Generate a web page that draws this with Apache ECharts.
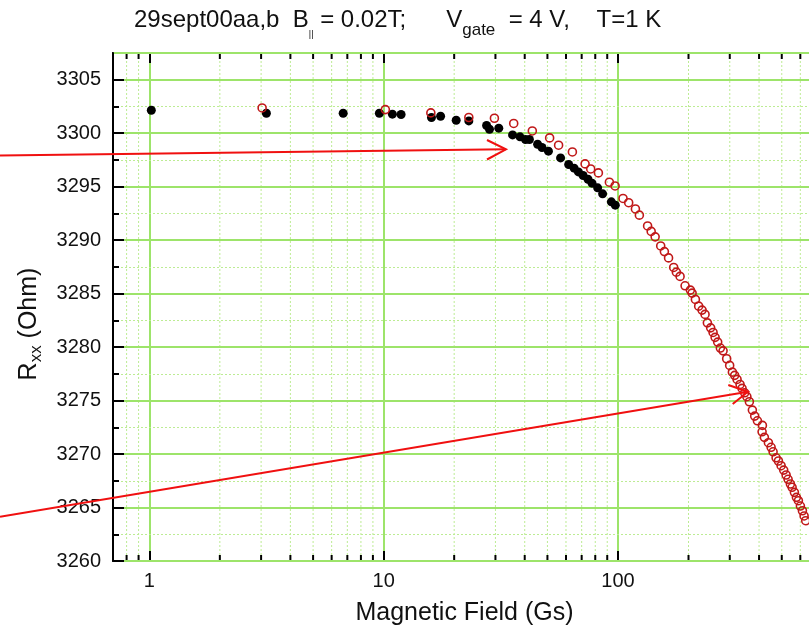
<!DOCTYPE html>
<html><head><meta charset="utf-8">
<script src="https://cdn.jsdelivr.net/npm/echarts@6/dist/echarts.min.js"></script>
<style>html,body{margin:0;padding:0;background:#fff}#c{width:809px;height:633px}</style>
</head><body><div id="c"></div>
<script>
// Axis ranges and ticks
const xMin = 0.7, xMax = 700;
const yMin = 3260, yMax = 3307.5;
const yMajorStep = 5, yMinorStep = 2.5;
const xMinorTicks = [0.8, 0.9, 2, 3, 4, 5, 6, 7, 8, 9, 20, 30, 40, 50, 60, 70, 80, 90, 200, 300, 400, 500, 600];

// Series 1 (filled black circles)
const blackField = [1.02, 3.16, 6.72, 9.59, 10.9, 11.87, 16.0, 17.5, 20.4, 23.1, 27.5, 28.3, 31.0, 35.5, 38.2, 40.3, 41.9, 45.4, 47.4, 50.5, 56.9, 61.6, 65.0, 67.8, 71.0, 74.5, 77.5, 81.9, 86.0, 93.7, 97.4];
const blackRxx = [3302.15, 3301.87, 3301.87, 3301.87, 3301.78, 3301.75, 3301.47, 3301.59, 3301.21, 3301.15, 3300.72, 3300.37, 3300.47, 3299.84, 3299.66, 3299.41, 3299.41, 3298.97, 3298.66, 3298.32, 3297.69, 3297.07, 3296.73, 3296.38, 3296.05, 3295.70, 3295.33, 3294.89, 3294.33, 3293.58, 3293.27];

// Series 2 (open red circles)
const redField = [3.03, 10.17, 15.9, 23.1, 29.7, 35.9, 43.1, 51.1, 55.8, 63.9, 72.4, 76.5, 82.5, 91.9, 97.2, 105.1, 111.1, 118.7, 123.4, 133.8, 138.6, 144.1, 152.2, 157.8, 164.4, 172.9, 177.5, 184.1, 193.4, 203.7, 207.2, 214.0, 221.0, 228.5, 235.3, 240.7, 248.6, 254.6, 259.7, 266.4, 273.5, 280.9, 291.0, 299.7, 307.8, 314.8, 322.3, 331.9, 338.5, 347.3, 354.9, 363.7, 374.6, 383.2, 393.6, 413.4, 412.1, 421.5, 438.5, 450.3, 459.2, 472.9, 483.8, 496.8, 509.6, 521.8, 532.1, 544.3, 553.5, 566.2, 577.4, 588.8, 600.5, 612.5, 622.8, 632.6];
const redRxx = [3302.36, 3302.21, 3301.90, 3301.47, 3301.40, 3300.91, 3300.21, 3299.56, 3298.88, 3298.25, 3297.13, 3296.66, 3296.29, 3295.42, 3295.07, 3293.90, 3293.50, 3292.92, 3292.34, 3291.33, 3290.82, 3290.31, 3289.46, 3288.93, 3288.34, 3287.45, 3287.01, 3286.61, 3285.73, 3285.33, 3285.05, 3284.46, 3283.83, 3283.46, 3283.06, 3282.27, 3281.80, 3281.37, 3280.91, 3280.47, 3279.91, 3279.65, 3278.91, 3278.29, 3277.66, 3277.36, 3276.98, 3276.51, 3276.14, 3275.73, 3275.36, 3274.89, 3274.11, 3273.55, 3273.11, 3272.68, 3272.08, 3271.56, 3271.06, 3270.63, 3270.21, 3269.65, 3269.35, 3268.91, 3268.50, 3268.04, 3267.64, 3267.20, 3266.89, 3266.42, 3265.95, 3265.64, 3265.14, 3264.70, 3264.21, 3263.77];

const FONT = '"Liberation Sans", Arial, sans-serif';
const MAJOR_GRID = '#9de46a';
const MINOR_GRID = '#bdec94';

const chart = echarts.init(document.getElementById('c'), null, {renderer: 'canvas'});

const zipPts = (xs, ys) => xs.map((v, i) => [v, ys[i]]);

const option = {
  backgroundColor: '#fff',
  animation: false,
  title: {
    text: '29sept00aa,b  B{s1|||} = 0.02T;      V{s2|gate}  = 4 V,    T=1 K',
    left: 134, top: 2, padding: 0,
    textStyle: {
      fontFamily: FONT, fontSize: 24, fontWeight: 'normal', color: '#111',
      rich: {
        s1: {fontFamily: FONT, fontSize: 9, color: '#111', padding: [28, 0, 0, 0]},
        s2: {fontFamily: FONT, fontSize: 17, color: '#111', padding: [19, 0, 0, 0]}
      }
    }
  },
  grid: {left: 113, right: -7, top: 53, bottom: 72, containLabel: false, outerBoundsMode: 'none'},
  xAxis: [{
    type: 'log', logBase: 10, min: xMin, max: xMax, position: 'bottom',
    name: 'Magnetic Field (Gs)', nameLocation: 'middle', nameGap: 40,
    nameTextStyle: {fontFamily: FONT, fontSize: 25, color: '#111'},
    axisLine: {show: true, onZero: false, lineStyle: {color: '#000', width: 2}},
    axisTick: {show: true, inside: true, length: 10, lineStyle: {color: '#000', width: 2}},
    axisLabel: {show: true, margin: 10, fontFamily: FONT, fontSize: 20, color: '#111', showMinLabel: false, showMaxLabel: false},
    splitLine: {show: true, lineStyle: {color: MAJOR_GRID, width: 2, type: 'solid'}},
    minorTick: {show: false}, minorSplitLine: {show: false}
  }, {
    type: 'log', logBase: 10, min: xMin, max: xMax, position: 'top',
    axisLine: {show: true, onZero: false, lineStyle: {color: '#000', width: 2}},
    axisTick: {show: true, inside: true, length: 10, lineStyle: {color: '#000', width: 2}},
    axisLabel: {show: false}, splitLine: {show: false}
  }],
  yAxis: [{
    type: 'value', min: yMin, max: yMax, interval: yMajorStep, position: 'left', z: 2,
    name: 'R{sub|xx} (Ohm)', nameLocation: 'middle', nameGap: 68,
    nameTextStyle: {
      fontFamily: FONT, fontSize: 25, color: '#111', padding: [0, 34, 0, 0],
      rich: {sub: {fontFamily: FONT, fontSize: 17, color: '#111', padding: [14, 0, 0, 0]}}
    },
    axisLine: {show: true, onZero: false, lineStyle: {color: '#000', width: 2}},
    axisTick: {show: true, inside: true, length: 11, lineStyle: {color: '#000', width: 2}},
    axisLabel: {show: true, margin: 12, fontFamily: FONT, fontSize: 20, color: '#111', showMaxLabel: false,
      formatter: v => String(Math.round(v))},
    splitLine: {show: true, lineStyle: {color: MAJOR_GRID, width: 2, type: 'solid'}}
  }, {
    type: 'value', min: yMin, max: yMax, interval: yMinorStep, position: 'left', z: 1,
    axisLine: {show: false, onZero: false},
    axisTick: {show: true, inside: true, length: 6, lineStyle: {color: '#000', width: 2}},
    axisLabel: {show: false},
    splitLine: {show: true, lineStyle: {color: MINOR_GRID, width: 1, type: [2, 2]}}
  }],
  series: [{
    type: 'custom', name: 'xMinor', xAxisIndex: 0, yAxisIndex: 0, z: 1, silent: true,
    data: xMinorTicks.map(v => [v, yMin]),
    renderItem: function (params, api) {
      const cs = params.coordSys;
      const x = api.coord([api.value(0), yMin])[0];
      const top = cs.y, bot = cs.y + cs.height;
      return {type: 'group', children: [
        {type: 'line', shape: {x1: x, y1: top, x2: x, y2: bot}, style: {stroke: MINOR_GRID, lineWidth: 1, lineDash: [2, 2]}},
        {type: 'line', shape: {x1: x, y1: bot, x2: x, y2: bot - 6}, style: {stroke: '#000', lineWidth: 2}},
        {type: 'line', shape: {x1: x, y1: top, x2: x, y2: top + 6}, style: {stroke: '#000', lineWidth: 2}}
      ]};
    }
  }, {
    type: 'scatter', name: 'black', xAxisIndex: 0, yAxisIndex: 0, z: 3,
    symbol: 'circle', symbolSize: 9,
    itemStyle: {color: '#000', opacity: 1},
    data: zipPts(blackField, blackRxx)
  }, {
    type: 'scatter', name: 'red', xAxisIndex: 0, yAxisIndex: 0, z: 4,
    symbol: 'circle', symbolSize: 8,
    itemStyle: {color: 'rgba(255,255,255,0)', borderColor: '#c01818', borderWidth: 1.6, opacity: 1},
    data: zipPts(redField, redRxx)
  }],
  graphic: [
    {type: 'line', z: 100, shape: {x1: 0, y1: 155.5, x2: 506, y2: 149.3}, style: {stroke: '#f01010', lineWidth: 2}},
    {type: 'polyline', z: 100, shape: {points: [[487, 140], [506, 149.3], [487, 159.5]]}, style: {stroke: '#f01010', lineWidth: 2, fill: null}},
    {type: 'line', z: 100, shape: {x1: 0, y1: 516.7, x2: 748, y2: 391.7}, style: {stroke: '#f01010', lineWidth: 2}},
    {type: 'polyline', z: 100, shape: {points: [[728.3, 385], [748, 391.7], [732.7, 404]]}, style: {stroke: '#f01010', lineWidth: 2, fill: null}}
  ]
};
chart.setOption(option);
</script>
</body></html>
